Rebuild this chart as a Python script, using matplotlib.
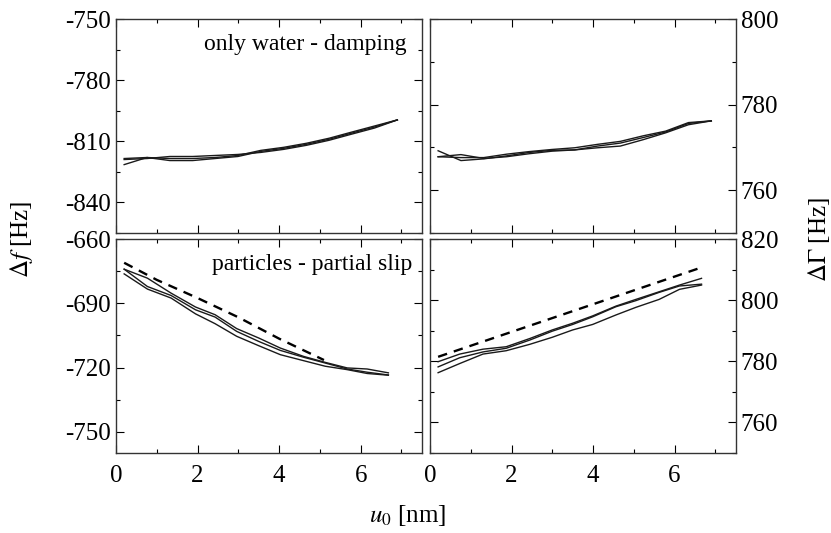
import matplotlib
matplotlib.use("Agg")
import matplotlib.pyplot as plt
from matplotlib.ticker import MultipleLocator

plt.rcParams['font.family'] = ['Liberation Serif', 'DejaVu Serif']
plt.rcParams['mathtext.fontset'] = 'stix'
plt.rcParams['font.size'] = 18
plt.rcParams['axes.unicode_minus'] = False

# x grids (u0 in nm)
x_top = [0.2, 0.76, 1.32, 1.88, 2.43, 2.99, 3.55, 4.11, 4.67, 5.23, 5.78, 6.34, 6.9]
x_bot = [0.2, 0.77, 1.35, 1.95, 2.43, 2.96, 3.5, 4.03, 4.6, 5.13, 5.67, 6.16, 6.68]
x_bot_r = [0.2, 0.73, 1.3, 1.87, 2.45, 3.0, 3.5, 3.99, 4.56, 5.05, 5.62, 6.12, 6.66]

# only water - damping, frequency shift
df_water = [
    [-818.5, -818.0, -819.5, -819.5, -818.5, -817.5, -815.0, -813.5, -811.5, -809.0, -806.0, -803.0, -799.5],
    [-821.5, -818.0, -818.5, -818.5, -818.0, -817.0, -814.5, -813.0, -811.0, -808.5, -805.5, -802.5, -799.5],
    [-819.0, -818.5, -817.5, -817.5, -817.0, -816.5, -815.5, -814.0, -812.0, -809.5, -806.5, -803.5, -799.5],
]
# only water - damping, bandwidth
dg_water = [
    [769.2, 766.9, 767.3, 768.0, 768.8, 769.3, 769.4, 770.3, 771.0, 772.3, 773.6, 775.6, 776.2],
    [767.8, 768.3, 767.4, 767.8, 768.5, 769.1, 769.4, 769.9, 770.3, 771.8, 773.4, 775.3, 776.2],
    [767.8, 767.6, 767.6, 768.4, 769.0, 769.5, 769.9, 770.7, 771.4, 772.7, 773.8, 775.8, 776.2],
]
# particles - partial slip, frequency shift
df_part = [
    [-674.0, -678.2, -685.2, -691.7, -695.3, -701.8, -706.2, -710.9, -714.8, -717.6, -720.2, -720.7, -722.5],
    [-674.0, -682.1, -686.3, -693.0, -696.4, -703.1, -707.8, -712.0, -715.2, -717.9, -720.7, -722.2, -723.5],
    [-676.2, -683.3, -687.5, -694.9, -699.5, -705.4, -709.8, -714.0, -716.8, -719.4, -721.0, -722.8, -723.6],
]
df_model_x = [0.2, 1.0, 2.0, 3.0, 4.0, 5.1]
df_model = [-671.0, -679.0, -687.5, -696.5, -706.5, -716.5]

# particles - partial slip, bandwidth
dg_part = [
    [779.9, 782.4, 784.0, 784.8, 787.5, 790.3, 792.5, 794.9, 798.1, 800.3, 802.8, 805.0, 807.2],
    [778.2, 781.2, 783.1, 784.3, 787.0, 789.9, 792.1, 794.6, 797.9, 799.9, 802.6, 804.7, 805.3],
    [776.3, 779.3, 782.4, 783.5, 785.6, 787.9, 790.3, 792.1, 795.2, 797.7, 800.3, 803.6, 805.0],
]
dg_model_x = [0.2, 6.6]
dg_model = [781.5, 810.5]

fig = plt.figure(figsize=(8.31, 5.33), dpi=100)
ax_tl = fig.add_axes([0.1396, 0.5634, 0.368, 0.4004])
ax_tr = fig.add_axes([0.5174, 0.5634, 0.368, 0.4004])
ax_bl = fig.add_axes([0.1396, 0.1501, 0.368, 0.4010])
ax_br = fig.add_axes([0.5174, 0.1501, 0.368, 0.4010])

for y in df_water:
    ax_tl.plot(x_top, y, color='#1a1a1a', lw=1.0)
for y in dg_water:
    ax_tr.plot(x_top, y, color='#1a1a1a', lw=1.0)
for y in df_part:
    ax_bl.plot(x_bot, y, color='#1a1a1a', lw=1.0)
ax_bl.plot(df_model_x, df_model, color='black', lw=1.7, ls=(0, (4, 3)))
for y in dg_part:
    ax_br.plot(x_bot_r, y, color='#1a1a1a', lw=1.0)
ax_br.plot(dg_model_x, dg_model, color='black', lw=1.7, ls=(0, (4, 3)))

ax_tl.set_ylim(-855, -750)
ax_tl.set_yticks([-750, -780, -810, -840])
ax_bl.set_ylim(-760, -660)
ax_bl.set_yticks([-660, -690, -720, -750])
ax_tr.set_ylim(750, 800)
ax_tr.set_yticks([760, 780, 800])
ax_br.set_ylim(750, 820)
ax_br.set_yticks([760, 780, 800, 820])

for ax in [ax_tl, ax_tr, ax_bl, ax_br]:
    ax.set_xlim(0, 7.5)
    ax.set_xticks([0, 2, 4, 6])
    ax.xaxis.set_minor_locator(MultipleLocator(1))
    ax.tick_params(which='both', direction='in', top=True, right=True, left=True, bottom=True)
    ax.tick_params(which='major', length=6, width=0.8)
    ax.tick_params(which='minor', length=3, width=0.8)
    ax.tick_params(axis='x', pad=9)
    for s in ax.spines.values():
        s.set_linewidth(1.0)
        s.set_color('#333333')

ax_tl.yaxis.set_minor_locator(MultipleLocator(15))
ax_bl.yaxis.set_minor_locator(MultipleLocator(15))
ax_tr.yaxis.set_minor_locator(MultipleLocator(10))
ax_br.yaxis.set_minor_locator(MultipleLocator(10))

for ax in [ax_tl, ax_tr]:
    ax.tick_params(labelbottom=False)
for ax in [ax_tr, ax_br]:
    ax.tick_params(labelleft=False, labelright=True)

ax_tl.text(0.95, 0.93, 'only water - damping', transform=ax_tl.transAxes,
           ha='right', va='top', fontsize=17)
ax_bl.text(0.97, 0.93, 'particles - partial slip', transform=ax_bl.transAxes,
           ha='right', va='top', fontsize=17)

fig.text(0.026, 0.55, r'$\Delta f$ [Hz]', rotation=90, ha='center', va='center', fontsize=18)
fig.text(0.985, 0.55, r'$\Delta\Gamma$ [Hz]', rotation=90, ha='center', va='center', fontsize=18)
fig.text(0.49, 0.033, r'$u_0$ [nm]', ha='center', va='center', fontsize=18)

fig.savefig('out.png', dpi=100)
